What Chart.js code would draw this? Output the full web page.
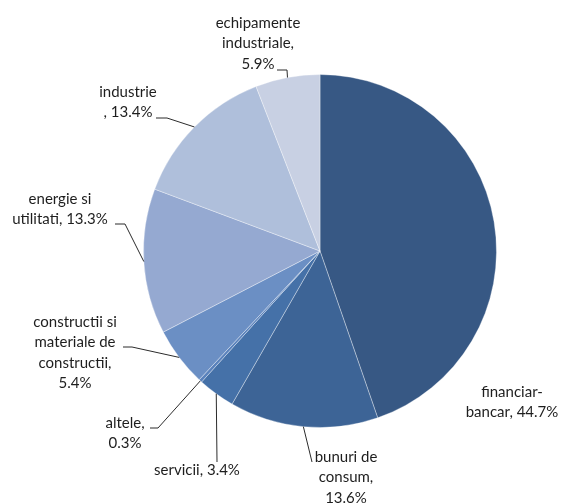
<!DOCTYPE html>
<html>
<head>
<meta charset="utf-8">
<script src="https://cdn.jsdelivr.net/npm/chart.js@4.4.1/dist/chart.umd.min.js"></script>
<style>
  html, body { margin: 0; padding: 0; background: #fff; }
  #wrap { width: 563px; height: 503px; position: relative; }
</style>
</head>
<body>
<div id="wrap"><canvas id="c" width="563" height="503"></canvas></div>
<script>
// ---- data ----
const categories = [
  "financiar-\nbancar",
  "bunuri de\nconsum",
  "servicii",
  "altele",
  "constructii si\nmateriale de\nconstructii",
  "energie si\nutilitati",
  "industrie",
  "echipamente\nindustriale"
];
const shares = [44.7, 13.6, 3.4, 0.3, 5.4, 13.3, 13.4, 5.9];

// ---- styles ----
const sliceColors = ["#375884", "#3D6496", "#4571A8", "#5A82BC", "#6B8FC4", "#95A9D1", "#AFBFDB", "#C8D0E3"];

// ---- label layout (text position, separator, leader path) ----
const labelLayout = [
  { sep: ", ",  x: 512, y: 392, leader: null },
  { sep: ",\n", x: 346, y: 457, leader: [[312, 462]] },
  { sep: ", ",  x: 197, y: 470, leader: [[217, 462]] },
  { sep: ",\n", x: 125, y: 423, leader: [[158, 428], [150, 428]] },
  { sep: ",\n", x: 75,  y: 322, leader: [[132, 347], [123, 347]] },
  { sep: ", ",  x: 60,  y: 199, leader: [[125, 224], [115, 224]] },
  { sep: "\n, ", x: 128, y: 92, leader: [[167, 118], [156, 118]] },
  { sep: ",\n", x: 258, y: 23,  leader: [[287, 70], [277, 70]] }
];
const lineHeight = 20.5;

const labelPlugin = {
  id: 'pieLabels',
  afterDatasetsDraw(chart) {
    const ctx = chart.ctx;
    const meta = chart.getDatasetMeta(0);
    ctx.save();
    meta.data.forEach((arc, i) => {
      const lay = labelLayout[i];
      const p = arc.getProps(['x', 'y', 'startAngle', 'endAngle', 'outerRadius'], true);
      const mid = (p.startAngle + p.endAngle) / 2;
      if (lay.leader) {
        ctx.beginPath();
        ctx.strokeStyle = '#2b2b2b';
        ctx.lineWidth = 1;
        ctx.moveTo(p.x + Math.cos(mid) * p.outerRadius, p.y + Math.sin(mid) * p.outerRadius);
        lay.leader.forEach(pt => ctx.lineTo(pt[0], pt[1]));
        ctx.stroke();
      }
      const text = categories[i] + lay.sep + shares[i].toFixed(1) + '%';
      const lines = text.split('\n');
      ctx.fillStyle = '#1e1e1e';
      ctx.font = '15px Lato, "Open Sans", sans-serif';
      ctx.textAlign = 'center';
      ctx.textBaseline = 'middle';
      lines.forEach((ln, k) => ctx.fillText(ln, lay.x, lay.y + k * lineHeight));
    });
    ctx.restore();
  }
};

new Chart(document.getElementById('c'), {
  type: 'pie',
  data: {
    labels: categories.map(c => c.replace(/\n/g, ' ')),
    datasets: [{
      data: shares,
      backgroundColor: sliceColors,
      borderColor: 'rgba(255,255,255,0.35)',
      borderWidth: 1
    }]
  },
  options: {
    responsive: false,
    animation: false,
    layout: { padding: { left: 143, right: 66, top: 74, bottom: 75 } },
    plugins: { legend: { display: false }, tooltip: { enabled: false } }
  },
  plugins: [labelPlugin]
});
</script>
</body>
</html>
